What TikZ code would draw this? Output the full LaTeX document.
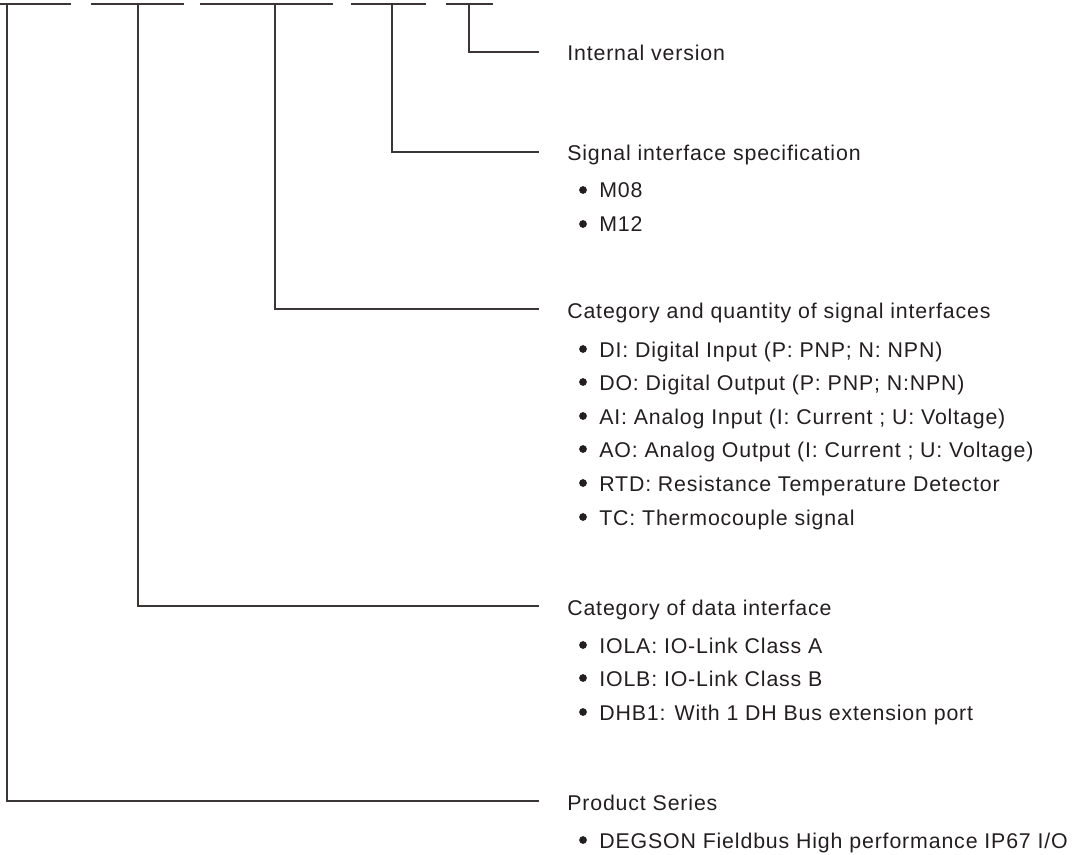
\documentclass[tikz,border=0pt]{standalone}
\usepackage{fontspec}
\setmainfont[LetterSpace=4]{Liberation Sans}
\definecolor{ln}{HTML}{3A3636}
\definecolor{tx}{HTML}{231F20}
\begin{document}
\begin{tikzpicture}[x=0.75pt,y=-0.75pt,
  lead/.style={draw=ln,line width=1.1pt},
  title/.style={anchor=base west,inner sep=0pt,text=tx,font=\fontsize{16}{19}\selectfont},
  itemtext/.style={anchor=base west,inner sep=0pt,text=tx,font=\fontsize{16}{19}\selectfont},
  dot/.style={circle,fill=tx,inner sep=0pt,minimum size=5.8pt}]
\useasboundingbox (0,0) rectangle (1080,855);
% top code segments
\foreach \a/\b/\n in {0/71/1,91/184/2,200/333/3,351/426/4,446/493/5}{
  \coordinate (sa\n) at (\a,4);
  \coordinate (sb\n) at (\b,4);
  \draw[lead] (sa\n) -- (sb\n);
}
% leaders
\foreach \x/\y/\n in {7/801/1,138/606/2,275/309/3,392/152/4,469/52/5}{
  \coordinate (c\n) at (\x,4);
  \coordinate (e\n) at (539,\y);
  \draw[lead] (c\n) |- (e\n);
}
% titles
\node[title] (t5) at (567,61) {Internal version};
\node[title] (t4) at (567,161) {Signal interface specification};
\node[title] (t3) at (567,318) {Category and quantity of signal interfaces};
\node[title] (t2) at (567,615) {Category of data interface};
\node[title] (t1) at (567,810) {Product Series};
% bullet items
\foreach \y/\t/\n in {
  190/M08/a1, 224/M12/a2,
  349/{DI: Digital Input (P: PNP; N: NPN)}/b1,
  382/{DO: Digital Output (P: PNP; N:NPN)}/b2,
  416/{AI: Analog Input (I: Current ; U: Voltage)}/b3,
  449/{AO: Analog Output (I: Current ; U: Voltage)}/b4,
  483/{RTD: Resistance Temperature Detector}/b5,
  517/{TC: Thermocouple signal}/b6,
  645/{IOLA: IO-Link Class A}/c1,
  678/{IOLB: IO-Link Class B}/c2,
  712/{DHB1: With 1 DH Bus extension port}/c3,
  840/{DEGSON Fieldbus High performance IP67 I/O}/d1}{
  \node[dot] (dot\n) at (583,\y) {};
  \node[itemtext] (it\n) at (599,\y+8) {\t};
}
\end{tikzpicture}
\end{document}
